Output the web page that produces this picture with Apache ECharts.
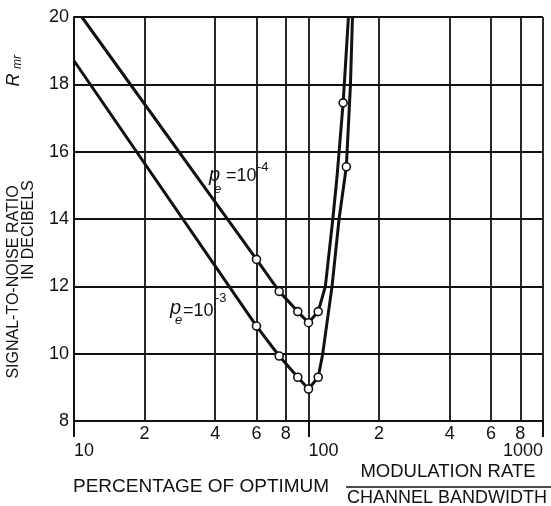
<!DOCTYPE html>
<html><head><meta charset="utf-8">
<script src="https://cdn.jsdelivr.net/npm/echarts@6/dist/echarts.min.js"></script>
<style>html,body{margin:0;padding:0;background:#fff}#c{width:551px;height:506px}</style>
</head><body><div id="c"></div>
<script>
// ---- axis definitions (percentage of optimum, log axis) ----
const gridLinePercents = [10, 20, 40, 60, 80, 100, 200, 400, 600, 800, 1000];
const digitLabelPercents = [20, 40, 60, 80, 200, 400, 600, 800];
const decadeLabelPercents = [10, 100];
const endLabelPercents = [1000];
const decadeTickPercents = [10, 100, 1000];
const yMin = 8, yMax = 20, yStep = 2;

// ---- curve p_e = 10^-4 ----
const upperX = [10.8, 60, 75, 90, 100, 110, 118, 127, 132.5, 140.5, 148];
const upperY = [20, 12.8, 11.85, 11.25, 10.92, 11.25, 12.0, 14.0, 15.3, 17.45, 20];
const upperMarked = [0, 1, 1, 1, 1, 1, 0, 0, 0, 1, 0];

// ---- curve p_e = 10^-3 ----
const lowerX = [10, 60, 75, 90, 100, 110, 115, 126, 135, 145, 151, 154];
const lowerY = [18.7, 10.82, 9.93, 9.3, 8.95, 9.3, 10.0, 12.0, 14.0, 15.55, 18.0, 20];
const lowerMarked = [0, 1, 1, 1, 1, 1, 0, 0, 0, 1, 0, 0];

const lg = v => Math.round(Math.log10(v) * 1e9) / 1e9;
const INK = '#111';
const FONT = 'Liberation Sans';

function pts(xs, ys) { return xs.map((x, i) => [lg(x), ys[i]]); }
function marks(xs, ys, m) { return xs.map((x, i) => [lg(x), ys[i]]).filter((_, i) => m[i]); }

const chart = echarts.init(document.getElementById('c'), null, {renderer: 'canvas'});
const baseX = {type: 'value', min: lg(10), max: lg(1000), gridIndex: 0, position: 'bottom'};
const lblStyle = {fontSize: 18, color: INK, fontFamily: FONT};

function txt(x, y, text, size, extra) {
  return {
    type: 'text', x: x, y: y, silent: true,
    style: Object.assign({text: text, fill: INK, fontSize: size, fontFamily: FONT,
      align: 'left', textAlign: 'left', verticalAlign: 'middle', textVerticalAlign: 'middle'}, extra || {})
  };
}
function rtxt(x, y, text, size, extra) {
  const t = txt(x, y, text, size, Object.assign({align: 'center', textAlign: 'center'}, extra || {}));
  t.rotation = Math.PI / 2;
  return t;
}

const option = {
  animation: false,
  backgroundColor: '#fff',
  grid: {left: 74, right: 8, top: 17, bottom: 85, outerBoundsMode: 'none', containLabel: false},
  xAxis: [
    Object.assign({}, baseX, {
      axisLine: {show: true, lineStyle: {color: INK, width: 2}},
      axisTick: {show: true, customValues: decadeTickPercents.map(lg), length: 16, inside: false,
                 lineStyle: {color: INK, width: 2}},
      axisLabel: Object.assign({customValues: digitLabelPercents.map(lg), margin: 4,
                 formatter: v => String(Math.round(Math.pow(10, v))).charAt(0)}, lblStyle),
      splitLine: {show: false}
    }),
    Object.assign({}, baseX, {
      axisLine: {show: false},
      axisTick: {show: false, customValues: gridLinePercents.map(lg)},
      axisLabel: Object.assign({customValues: decadeLabelPercents.map(lg), margin: 21, align: 'left',
                 formatter: v => String(Math.round(Math.pow(10, v)))}, lblStyle),
      splitLine: {show: true, lineStyle: {color: INK, width: 1.8}}
    }),
    Object.assign({}, baseX, {
      axisLine: {show: false},
      axisTick: {show: false},
      axisLabel: Object.assign({customValues: endLabelPercents.map(lg), margin: 21, align: 'right',
                 formatter: v => String(Math.round(Math.pow(10, v)))}, lblStyle),
      splitLine: {show: false}
    })
  ],
  yAxis: {
    type: 'value', min: yMin, max: yMax, interval: yStep,
    axisLine: {show: true, lineStyle: {color: INK, width: 2}},
    axisTick: {show: false},
    axisLabel: Object.assign({margin: 5}, lblStyle),
    splitLine: {show: true, lineStyle: {color: INK, width: 1.8}}
  },
  series: [
    {type: 'line', xAxisIndex: 0, data: pts(upperX, upperY), showSymbol: false, symbol: 'none',
     lineStyle: {color: INK, width: 3}, z: 3, clip: true},
    {type: 'line', xAxisIndex: 0, data: pts(lowerX, lowerY), showSymbol: false, symbol: 'none',
     lineStyle: {color: INK, width: 3}, z: 3, clip: true},
    {type: 'scatter', xAxisIndex: 0, data: marks(upperX, upperY, upperMarked), symbol: 'circle', symbolSize: 8,
     itemStyle: {color: '#fff', borderColor: INK, borderWidth: 1.6, opacity: 1}, z: 5},
    {type: 'scatter', xAxisIndex: 0, data: marks(lowerX, lowerY, lowerMarked), symbol: 'circle', symbolSize: 8,
     itemStyle: {color: '#fff', borderColor: INK, borderWidth: 1.6, opacity: 1}, z: 5}
  ],
  graphic: [
    // y-axis title
    rtxt(14, 282, 'SIGNAL-TO-NOISE RATIO', 16),
    rtxt(14, 80, 'R', 18, {fontStyle: 'italic'}),
    rtxt(18, 62, 'mr', 12, {fontStyle: 'italic'}),
    rtxt(29, 230, 'IN DECIBELS', 16),
    // x-axis title
    txt(73, 487, 'PERCENTAGE OF OPTIMUM', 19),
    txt(448, 472, 'MODULATION RATE', 18.5, {align: 'center', textAlign: 'center'}),
    {type: 'line', silent: true, shape: {x1: 346, y1: 487, x2: 551, y2: 487}, style: {stroke: INK, lineWidth: 1.6}},
    txt(447, 498, 'CHANNEL BANDWIDTH', 18, {align: 'center', textAlign: 'center'}),
    // curve labels
    txt(209, 175, 'p', 20, {fontStyle: 'italic'}),
    txt(214, 189, 'e', 13, {fontStyle: 'italic'}),
    txt(226, 176, '=10', 18),
    txt(257, 167, '-4', 13),
    txt(170, 308, 'p', 20, {fontStyle: 'italic'}),
    txt(175, 320, 'e', 13, {fontStyle: 'italic'}),
    txt(183, 311, '=10', 18),
    txt(215, 298, '-3', 13)
  ]
};
chart.setOption(option);
</script>
</body></html>
